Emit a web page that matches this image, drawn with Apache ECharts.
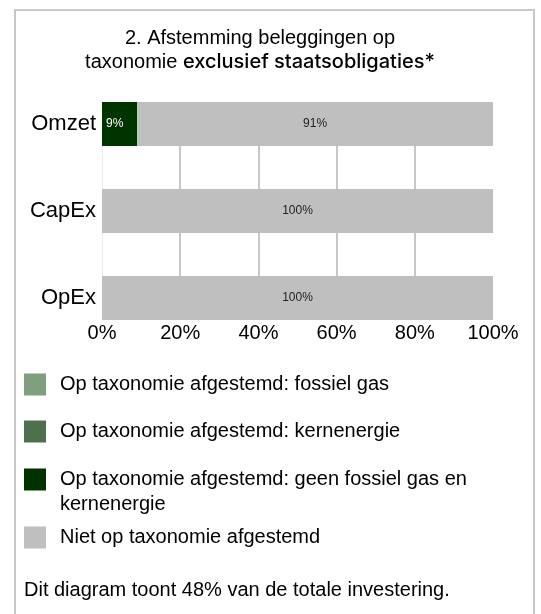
<!DOCTYPE html>
<html>
<head>
<meta charset="utf-8">
<script src="https://cdn.jsdelivr.net/npm/echarts@6/dist/echarts.min.js"></script>
<style>
  html, body { margin: 0; padding: 0; background: #fff; }
  #chart { width: 541px; height: 614px; }
</style>
</head>
<body>
<div id="chart"></div>
<script>
// ============ 数据 ============
const categories = ['Omzet', 'CapEx', 'OpEx']
const fossielGas = [0, 0, 0]
const kernenergie = [0, 0, 0]
const geenFossielGas = [9, 0, 0]
const nietAfgestemd = [91, 100, 100]
const xMax = 100
const xStep = 20

const names = [
  'Op taxonomie afgestemd: fossiel gas',
  'Op taxonomie afgestemd: kernenergie',
  'Op taxonomie afgestemd: geen fossiel gas en kernenergie',
  'Niet op taxonomie afgestemd'
]
const colors = ['#7f9f7f', '#4d714d', '#003300', '#bfbfbf']

const font = '"Liberation Sans", Arial, sans-serif'

const pctLabel = (color, position) => ({
  show: true,
  position: position,
  distance: 4,
  color: color,
  fontSize: 12,
  fontFamily: font,
  formatter: (p) => (p.value ? p.value + '%' : '')
})

const makeSeries = (i, data, label) => ({
  name: names[i],
  type: 'bar',
  stack: 'total',
  barWidth: 44,
  clip: false,
  data: data,
  itemStyle: { color: colors[i] },
  label: label || { show: false },
  emphasis: { disabled: true }
})

// 每个图例项单独定位
const legendAt = (i, top, formatter) => ({
  data: [names[i]],
  left: 24,
  top: top,
  orient: 'vertical',
  padding: 0,
  itemWidth: 22,
  itemHeight: 22,
  icon: 'rect',
  selectedMode: false,
  formatter: formatter,
  textStyle: {
    fontSize: 20,
    lineHeight: 25,
    fontFamily: font,
    color: '#000',
    padding: [0, 0, 0, 9]
  }
})

const chart = echarts.init(document.getElementById('chart'))
chart.setOption({
  animation: false,
  backgroundColor: '#fff',
  graphic: [
    {
      type: 'rect',
      shape: { x: 15, y: 10, width: 519, height: 640 },
      style: { fill: 'none', stroke: '#c8c8c8', lineWidth: 2 },
      silent: true
    },
    {
      type: 'text',
      x: 260,
      y: 26,
      style: {
        text: '{a|2. Afstemming beleggingen op}\n{a|taxonomie }{b|exclusief staatsobligaties*}',
        align: 'center',
        rich: {
          a: { fontSize: 20, fontFamily: font, color: '#111', lineHeight: 24 },
          b: { fontSize: 20, fontFamily: 'Inter, Roboto, sans-serif', fontWeight: 500, color: '#111', lineHeight: 24 }
        }
      },
      silent: true
    },
    {
      type: 'text',
      x: 24,
      y: 580,
      style: {
        text: 'Dit diagram toont 48% van de totale investering.',
        fontSize: 20,
        fontFamily: font,
        fill: '#000'
      },
      silent: true
    }
  ],
  legend: [
    legendAt(0, 372),
    legendAt(1, 419),
    legendAt(2, 442, '\nOp taxonomie afgestemd: geen fossiel gas en\nkernenergie'),
    legendAt(3, 525)
  ],
  grid: { left: 102, right: 48, top: 124, height: 174 },
  xAxis: {
    type: 'value',
    min: 0,
    max: xMax,
    interval: xStep,
    offset: 22,
    axisLine: { show: false },
    axisTick: { show: false },
    axisLabel: {
      formatter: '{value}%',
      fontSize: 20,
      fontFamily: font,
      color: '#000',
      margin: 3
    },
    splitLine: {
      showMinLine: false,
      showMaxLine: false,
      lineStyle: { color: '#c8c8c8', width: 2 }
    }
  },
  yAxis: {
    type: 'category',
    data: categories,
    inverse: true,
    boundaryGap: false,
    offset: 2,
    axisLine: { show: true, lineStyle: { color: '#ececec', width: 1 } },
    axisTick: { show: false },
    axisLabel: { fontSize: 22, fontFamily: font, color: '#000', margin: 4 }
  },
  series: [
    makeSeries(0, fossielGas),
    makeSeries(1, kernenergie),
    makeSeries(2, geenFossielGas, pctLabel('#fff', 'insideLeft')),
    makeSeries(3, nietAfgestemd, pctLabel('#222', 'inside'))
  ]
})
</script>
</body>
</html>
